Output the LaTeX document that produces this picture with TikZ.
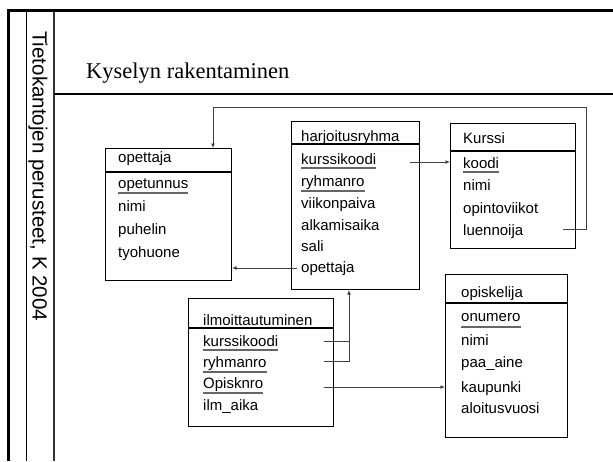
\documentclass[tikz,border=0pt]{standalone}
\usepackage{fontspec}
\setmainfont{Liberation Sans}
\newfontfamily\titlefont{Liberation Serif}
\usetikzlibrary{arrows.meta}
\begin{document}
\begin{tikzpicture}[x=1pt,y=-1pt,
  box/.style={draw=black, line width=1.1pt, inner sep=0pt, anchor=north west},
  fld/.style={anchor=base west, inner sep=0pt, font=\fontsize{15}{15}\selectfont},
  sepline/.style={line width=1.1pt},
  keyline/.style={draw=black!60, line width=1.2pt},
  conn/.style={draw=black!75, line width=1pt},
  arr/.style={conn, -{Latex[length=4.5pt,width=4pt]}}
]
\useasboundingbox (0,0) rectangle (613,461);
% frame
\draw[line width=3pt] (7,10.5) -- (613,10.5);
\draw[line width=3pt] (8.5,9) -- (8.5,461);
\draw[line width=1pt] (26.5,12) -- (26.5,461);
\draw[line width=1.4pt, draw=black!80] (54,12) -- (54,461);
\draw[line width=1.1pt] (54,94) -- (613,94);
\node[rotate=-90, anchor=base west, inner sep=0pt, font=\fontsize{20.5}{20.5}\selectfont] (side) at (32.5,31) {Tietokantojen perusteet, K 2004};
\node[anchor=base west, inner sep=0pt, font=\titlefont\fontsize{22.5}{22.5}\selectfont] (title) at (86,78) {Kyselyn rakentaminen};

% opettaja
\node[box, minimum width=126pt, minimum height=132pt] (opettaja) at (105,148) {};
\draw[sepline] (105,172) -- (231,172);
\node[fld] (op0) at (118,162) {opettaja};
\node[fld] (op1) at (118,188) {opetunnus};
\node[fld] (op2) at (118,211) {nimi};
\node[fld] (op3) at (118,234) {puhelin};
\node[fld] (op4) at (118,257) {tyohuone};
\draw[keyline] ([yshift=-5pt]op1.base west) -- ([yshift=-5pt]op1.base east);

% harjoitusryhma
\node[box, minimum width=128pt, minimum height=168pt] (harj) at (291,121) {};
\draw[sepline] (291,144) -- (419,144);
\node[fld] (h0) at (301,141) {harjoitusryhma};
\node[fld] (h1) at (301,164) {kurssikoodi};
\node[fld] (h2) at (301,186) {ryhmanro};
\node[fld] (h3) at (301,208) {viikonpaiva};
\node[fld] (h4) at (301,230) {alkamisaika};
\node[fld] (h5) at (301,251) {sali};
\node[fld] (h6) at (301,272) {opettaja};
\draw[keyline] ([yshift=-4pt]h1.base west) -- ([yshift=-4pt]h1.base east);
\draw[keyline] ([yshift=-5pt]h2.base west) -- ([yshift=-5pt]h2.base east);

% Kurssi
\node[box, minimum width=125pt, minimum height=125pt] (kurssi) at (450,123) {};
\draw[sepline] (450,151) -- (575,151);
\node[fld] (k0) at (463,143) {Kurssi};
\node[fld] (k1) at (463,168) {koodi};
\node[fld] (k2) at (463,190) {nimi};
\node[fld] (k3) at (463,213) {opintoviikot};
\node[fld] (k4) at (463,235) {luennoija};
\draw[keyline] ([yshift=-4pt]k1.base west) -- ([yshift=-4pt]k1.base east);

% ilmoittautuminen
\node[box, minimum width=145pt, minimum height=128pt] (ilmo) at (188,298) {};
\draw[sepline] (188,328) -- (333,328);
\node[fld] (i0) at (203,325) {ilmoittautuminen};
\node[fld] (i1) at (203,346) {kurssikoodi};
\node[fld] (i2) at (203,367) {ryhmanro};
\node[fld] (i3) at (203,388) {Opisknro};
\node[fld] (i4) at (203,410) {ilm\_aika};
\draw[keyline] ([yshift=-4pt]i1.base west) -- ([yshift=-4pt]i1.base east);
\draw[keyline] ([yshift=-5pt]i2.base west) -- ([yshift=-5pt]i2.base east);
\draw[keyline] ([yshift=-5pt]i3.base west) -- ([yshift=-5pt]i3.base east);

% opiskelija
\node[box, minimum width=122pt, minimum height=163pt] (opisk) at (445,274) {};
\draw[sepline] (445,303) -- (567,303);
\node[fld] (s0) at (461,297) {opiskelija};
\node[fld] (s1) at (461,321) {onumero};
\node[fld] (s2) at (461,345) {nimi};
\node[fld] (s3) at (461,367) {paa\_aine};
\node[fld] (s4) at (461,392) {kaupunki};
\node[fld] (s5) at (461,413) {aloitusvuosi};
\draw[keyline] ([yshift=-6pt]s1.base west) -- ([yshift=-6pt]s1.base east);

% connector end points
\coordinate (lu) at (563,229);
\coordinate (hk) at (410,162);
\coordinate (ho) at (297,268);
\coordinate (ik) at (324,341);
\coordinate (ir) at (324,361);
\coordinate (io) at (324,387);

% connectors
\draw[arr] (lu) -- (586,229) -- (586,107) -- (213,107) -- (opettaja.north -| 213,0);
\draw[arr] (hk) -- (hk -| kurssi.west);
\draw[arr] (ho) -- (ho -| opettaja.east);
\draw[conn] (ik) -- (349,341);
\draw[arr] (ir) -- (349,361) -- (harj.south -| 349,0);
\draw[arr] (io) -- (io -| opisk.west);
\end{tikzpicture}
\end{document}
